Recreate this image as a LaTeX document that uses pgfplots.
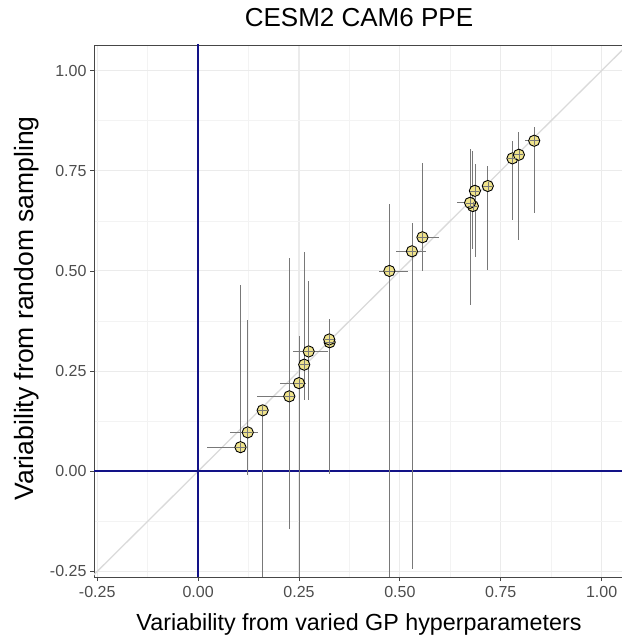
\documentclass[border=0pt]{standalone}
\usepackage{pgfplots}
\pgfplotsset{compat=1.18}
\usepackage{pgfplotstable}
\usepackage{fontspec}
\setmainfont{Liberation Sans}

\definecolor{ptfill}{RGB}{240,228,140}
\definecolor{navyline}{RGB}{18,18,135}
\definecolor{errgray}{RGB}{120,120,120}
\definecolor{gridmaj}{RGB}{235,235,235}
\definecolor{gridmin}{RGB}{243,243,243}
\definecolor{diag}{RGB}{218,218,218}
\definecolor{tickgray}{RGB}{77,77,77}
\definecolor{border}{RGB}{70,70,70}

% point, then lower/upper ends of the two ranges
\pgfplotstableread{
x     y     xlo   xhi   ylo    yhi
0.105 0.060 0.021 0.105  0.060 0.466
0.123 0.097 0.079 0.148 -0.010 0.377
0.160 0.152 0.160 0.160 -0.300 0.152
0.226 0.187 0.145 0.226 -0.143 0.532
0.250 0.220 0.203 0.267 -0.300 0.337
0.263 0.266 0.263 0.263  0.177 0.547
0.274 0.299 0.234 0.321  0.177 0.475
0.326 0.322 0.326 0.326  0.086 0.381
0.325 0.329 0.325 0.325 -0.008 0.381
0.474 0.500 0.449 0.520 -0.300 0.666
0.530 0.549 0.490 0.565 -0.245 0.619
0.556 0.584 0.542 0.596  0.500 0.770
0.681 0.662 0.681 0.681  0.556 0.799
0.674 0.670 0.642 0.674  0.416 0.805
0.686 0.700 0.686 0.686  0.534 0.766
0.718 0.712 0.718 0.718  0.503 0.761
0.779 0.781 0.779 0.779  0.626 0.825
0.795 0.790 0.795 0.795  0.578 0.846
0.833 0.825 0.810 0.833  0.644 0.859
}\ppe

\begin{document}
\begin{tikzpicture}
\path[use as bounding box] (0,0) rectangle (621pt,637pt);
\begin{axis}[
  at={(94pt,60pt)}, anchor=south west,
  scale only axis, width=530pt, height=532pt,
  xmin=-0.258, xmax=1.0555, ymin=-0.264, ymax=1.064,
  xtick={-0.25,0,0.25,0.5,0.75,1},
  ytick={-0.25,0,0.25,0.5,0.75,1},
  minor tick num=1,
  grid=both,
  major grid style={gridmaj, line width=1.1pt},
  minor grid style={gridmin, line width=0.6pt},
  axis line style={border, line width=0.8pt},
  tick style={border, line width=0.8pt},
  major tick length=4pt, minor tick length=0pt,
  tick align=outside, xtick pos=bottom, ytick pos=left,
  /pgf/number format/fixed, /pgf/number format/fixed zerofill,
  /pgf/number format/precision=2,
  /pgf/number format/assume math mode=true,
  ticklabel style={font=\fontsize{16}{18}\selectfont, text=tickgray},
  xticklabel style={yshift=-2pt},
  title={CESM2 CAM6 PPE},
  title style={at={(axis description cs:0.5,1.0244)}, anchor=base,
    font=\fontsize{26}{30}\selectfont},
  xlabel={Variability from varied GP hyperparameters},
  xlabel style={at={(axis description cs:0.5,-0.1)}, anchor=base,
    font=\fontsize{23.3}{27}\selectfont},
  ylabel={Variability from random sampling},
  ylabel style={at={(axis description cs:-0.114,0.505)}, anchor=base,
    font=\fontsize{26.5}{30}\selectfont},
]
\addplot[diag, line width=1.3pt] coordinates {(-0.3,-0.3) (1.1,1.1)};
\addplot[navyline, line width=1.8pt] coordinates {(0,-0.3) (0,1.1)};
\addplot[navyline, line width=1.8pt] coordinates {(-0.3,0) (1.1,0)};

\addplot[draw=none, mark=none,
  error bars/.cd, x dir=both, y dir=both, x explicit, y explicit,
  error mark=none, error bar style={draw=errgray, line width=0.8pt}]
  table[x=x, y=y,
    x error plus expr=\thisrow{xhi}-\thisrow{x},
    x error minus expr=\thisrow{x}-\thisrow{xlo},
    y error plus expr=\thisrow{yhi}-\thisrow{y},
    y error minus expr=\thisrow{y}-\thisrow{ylo}] {\ppe};

\addplot[only marks, mark=*, mark size=5.6pt,
  mark options={fill=ptfill, draw=black, line width=0.9pt}]
  table[x=x, y=y] {\ppe};
\addplot[only marks, mark=+, mark size=4.5pt,
  mark options={draw=errgray, line width=0.6pt}]
  table[x=x, y=y] {\ppe};
\end{axis}
\end{tikzpicture}
\end{document}
